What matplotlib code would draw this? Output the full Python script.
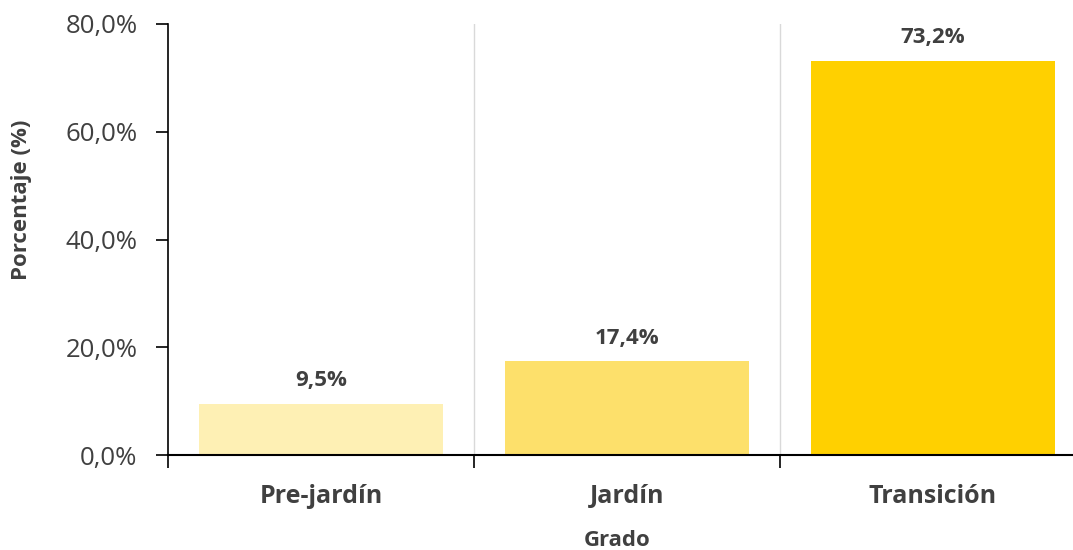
import matplotlib.pyplot as plt
from matplotlib.ticker import FuncFormatter

grados = ['Pre-jardín', 'Jardín', 'Transición']
porcentajes = [9.5, 17.4, 73.2]
colores = ['#FEF0B4', '#FDE06B', '#FFD000']

plt.rcParams['font.family'] = ['Open Sans', 'DejaVu Sans']

fig = plt.figure(figsize=(10.73, 5.5), dpi=100)
ax = fig.add_axes([168 / 1073, 95 / 550, 918 / 1073, 431 / 550])

x = range(len(grados))
ax.bar(x, porcentajes, width=0.8, color=colores, zorder=2)

for i, v in enumerate(porcentajes):
    ax.text(i, v + 2.3, f'{v:.1f}%'.replace('.', ','), ha='center', va='bottom',
            fontsize=16, fontweight='bold', color='#404040')

ax.set_xlim(-0.5, 2.5)
ax.set_ylim(0, 80)
ax.set_yticks([0, 20, 40, 60, 80])
ax.yaxis.set_major_formatter(FuncFormatter(lambda v, p: f'{v:.1f}%'.replace('.', ',')))
ax.tick_params(axis='y', labelsize=18.5, colors='black', labelcolor='#404040',
               length=9, width=1.2, pad=13)

# category boundaries as ticks + gridlines
ax.set_xticks([-0.5, 0.5, 1.5, 2.5])
ax.set_xticklabels([])
ax.set_xticks(list(x), minor=True)
ax.set_xticklabels(grados, minor=True, fontsize=18, fontweight='bold', color='#404040')
ax.tick_params(axis='x', which='major', length=9, width=1.2)
ax.tick_params(axis='x', which='minor', length=0, pad=21)
for b in [0.5, 1.5]:
    ax.axvline(b, color='#D9D9D9', lw=1, zorder=1)

for s in ['top', 'right']:
    ax.spines[s].set_visible(False)
ax.spines['left'].set_linewidth(1.2)
ax.spines['bottom'].set_linewidth(1.5)

fig.text(22 / 1073, 1 - 200 / 550, 'Porcentaje (%)', rotation=90, ha='center', va='center',
         fontsize=16, fontweight='bold', color='#404040')
fig.text(617 / 1073, 1 - 541 / 550, 'Grado', ha='center', va='center',
         fontsize=16, fontweight='bold', color='#404040')

fig.savefig('out.png', dpi=100)
